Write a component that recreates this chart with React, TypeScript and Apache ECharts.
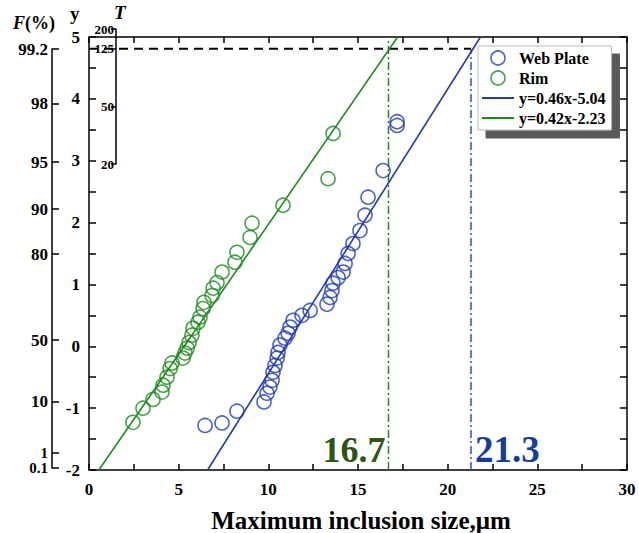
import React, { useEffect, useRef } from "react";
import * as echarts from "echarts";

// ---- data ----
const webPlate: [number, number][] = [
  [6.47, -1.28], [7.42, -1.24], [8.25, -1.05], [9.76, -0.9], [9.93, -0.76], [10.09, -0.66],
  [10.21, -0.55], [10.26, -0.42], [10.37, -0.31], [10.49, -0.19], [10.54, -0.1], [10.65, 0.02],
  [10.93, 0.13], [11.1, 0.21], [11.21, 0.31], [11.38, 0.42], [11.88, 0.5], [12.33, 0.58],
  [13.27, 0.68], [13.44, 0.79], [13.55, 0.9], [13.61, 1.02], [13.89, 1.11], [14.17, 1.2],
  [14.28, 1.34], [14.45, 1.5], [14.72, 1.66], [15.11, 1.87], [15.39, 2.12], [15.56, 2.41],
  [16.4, 2.84], [17.18, 3.57], [17.18, 3.63],
];
const rim: [number, number][] = [
  [2.45, -1.23], [3.01, -1.0], [3.57, -0.86], [4.07, -0.74], [4.13, -0.63], [4.35, -0.5],
  [4.52, -0.36], [4.63, -0.27], [5.24, -0.19], [5.35, -0.11], [5.47, -0.03], [5.58, 0.06],
  [5.74, 0.18], [5.8, 0.29], [6.08, 0.39], [6.19, 0.47], [6.36, 0.61], [6.41, 0.71],
  [6.86, 0.82], [6.92, 0.94], [7.14, 1.03], [7.42, 1.2], [8.14, 1.36], [8.25, 1.52],
  [8.98, 1.76], [9.09, 1.99], [10.82, 2.28], [13.33, 2.71], [13.61, 3.44],
];
const blueFit: [number, number][] = [[6.61, -2], [21.83, 5]];
const greenFit: [number, number][] = [[0.55, -2], [17.21, 5]];
const blueFitName = "y=0.46x-5.04";
const greenFitName = "y=0.42x-2.23";

const yLevel = 4.81; // 99.2 %
const greenCrit = 16.7;
const blueCrit = 21.3;
const critLabelY = -1.67;

// Probability (F %) axis: labels and their reduced-variate positions
const fLabels = ["99.2", "98", "95", "90", "80", "50", "10", "1", "0.1"];
const fValues = [4.81, 3.93, 2.98, 2.22, 1.49, 0.1, -0.9, -1.73, -1.97];
// Return-period (T) axis
const tLabels = ["200", "125", "50", "20"];
const tValues = [5.12, 4.81, 3.88, 2.96];

const xTitle = "Maximum inclusion size,μm";

const BLUE = "#1f3bb8";
const GREEN = "#1e8a1e";
const FONT = "'Liberation Serif', 'DejaVu Serif', serif";

export default function App() {
  const ref = useRef<HTMLDivElement>(null);
  useEffect(() => {
    if (!ref.current) return;
    const chart = echarts.init(ref.current, undefined, { renderer: "svg" });
    const lbl = { fontFamily: FONT, fontWeight: "bold" as const, color: "#000" };
    const axisLineStyle = { onZero: false, lineStyle: { color: "#000", width: 1.5 } };
    const tickStyle = { color: "#000", width: 1.5 };
    const pick = (vals: number[], labs: string[]) => (v: number) => {
      let best = 0;
      for (let i = 0; i < vals.length; i++) if (Math.abs(vals[i] - v) < Math.abs(vals[best] - v)) best = i;
      return labs[best];
    };
    const fMin = fValues[fValues.length - 1];
    const fMax = fValues[0];
    const fMain = fValues.slice(0, fValues.length - 2);
    const fLow = fValues.slice(fValues.length - 2);
    const pickF = pick(fValues, fLabels);
    const xCommon = {
      type: "value", min: 0, max: 30, interval: 5,
      axisLine: axisLineStyle,
      axisTick: { inside: true, length: 6, lineStyle: tickStyle },
      minorTick: { show: true, splitNumber: 2, length: 6, lineStyle: tickStyle },
      splitLine: { show: false }, minorSplitLine: { show: false },
    };
    const yCommon = {
      type: "value", min: -2, max: 5, interval: 1,
      axisLine: axisLineStyle,
      axisTick: { inside: true, length: 7, lineStyle: tickStyle },
      minorTick: { show: true, splitNumber: 2, length: 7, lineStyle: tickStyle },
      splitLine: { show: false }, minorSplitLine: { show: false },
    };
    chart.setOption({
      animation: false,
      backgroundColor: "#fff",
      grid: [
        { left: 89, right: 12, top: 37, bottom: 63 },
        { left: 52, width: 1, top: 49, bottom: 65 },
        { left: 116, width: 1, top: 29, height: 135 },
      ],
      xAxis: [
        {
          ...xCommon, gridIndex: 0, position: "bottom",
          axisLabel: { ...lbl, fontSize: 17, margin: 11, hideOverlap: false, showMinLabel: true, showMaxLabel: true },
        },
        { ...xCommon, gridIndex: 0, position: "top", axisLabel: { show: false } },
        { gridIndex: 1, type: "value", show: false, min: 0, max: 1 },
        { gridIndex: 2, type: "value", show: false, min: 0, max: 1 },
      ],
      yAxis: [
        { ...yCommon, gridIndex: 0, axisLabel: { ...lbl, fontSize: 17, margin: 9 } },
        { ...yCommon, gridIndex: 0, position: "right", axisLabel: { show: false } },
        {
          gridIndex: 1, type: "value", min: fMin, max: fMax, position: "left", offset: 0,
          axisLine: { show: true, ...axisLineStyle },
          axisTick: { show: true, inside: true, length: 7, customValues: fMain, lineStyle: tickStyle },
          axisLabel: {
            ...lbl, fontSize: 17, margin: 4, customValues: fMain, formatter: pickF,
            showMinLabel: true, showMaxLabel: true, hideOverlap: false,
          },
          splitLine: { show: false },
        },
        {
          gridIndex: 1, type: "value", min: fMin, max: fMax, position: "left", offset: 0,
          axisLine: { show: false, onZero: false },
          axisTick: { show: true, inside: true, length: 7, customValues: fLow, lineStyle: tickStyle },
          axisLabel: {
            ...lbl, fontSize: 15, lineHeight: 13, margin: 4, customValues: fLow, formatter: pickF,
            showMinLabel: true, showMaxLabel: true, hideOverlap: false,
          },
          splitLine: { show: false },
        },
        {
          gridIndex: 2, type: "value", min: tValues[tValues.length - 1], max: tValues[0],
          axisLine: { show: true, ...axisLineStyle },
          axisTick: { show: true, inside: false, length: 5, customValues: tValues, lineStyle: tickStyle },
          axisLabel: {
            ...lbl, fontSize: 13, margin: 2, customValues: tValues, formatter: pick(tValues, tLabels),
            showMinLabel: true, showMaxLabel: true, hideOverlap: false,
          },
          splitLine: { show: false },
        },
      ],
      legend: {
        orient: "vertical", left: 478, top: 46,
        backgroundColor: "#fff", borderColor: "#bbb", borderWidth: 1,
        shadowColor: "#5a5a5a", shadowOffsetX: 8, shadowOffsetY: 8, shadowBlur: 0,
        padding: [4, 6, 4, 4], itemGap: 4, itemWidth: 32, itemHeight: 14,
        textStyle: { ...lbl, fontSize: 16 },
        data: [
          { name: "Web Plate", icon: "circle", itemStyle: { color: "transparent", borderColor: BLUE, borderWidth: 1.6 } },
          { name: "Rim", icon: "circle", itemStyle: { color: "transparent", borderColor: GREEN, borderWidth: 1.6 } },
          { name: blueFitName, icon: "path://M0,0H32V2H0Z", itemStyle: { color: BLUE, borderWidth: 0 } },
          { name: greenFitName, icon: "path://M0,0H32V2H0Z", itemStyle: { color: GREEN, borderWidth: 0 } },
        ],
      },
      series: [
        {
          name: blueFitName, type: "line", data: blueFit, symbol: "none", xAxisIndex: 0, yAxisIndex: 0,
          lineStyle: { color: BLUE, width: 1.6 }, itemStyle: { color: BLUE }, z: 3,
        },
        {
          name: greenFitName, type: "line", data: greenFit, symbol: "none", xAxisIndex: 0, yAxisIndex: 0,
          lineStyle: { color: GREEN, width: 1.6 }, itemStyle: { color: GREEN }, z: 3,
        },
        {
          name: "Web Plate", type: "scatter", data: webPlate, symbol: "circle", symbolSize: 14,
          itemStyle: { color: "transparent", borderColor: BLUE, borderWidth: 1.6 }, z: 4,
        },
        {
          name: "Rim", type: "scatter", data: rim, symbol: "circle", symbolSize: 14,
          itemStyle: { color: "transparent", borderColor: GREEN, borderWidth: 1.6 }, z: 4,
        },
        {
          name: "level", type: "line", symbol: "none", data: [[0, yLevel], [blueCrit, yLevel]],
          lineStyle: { color: "#000", width: 1.8, type: [9, 6] }, z: 2,
        },
        {
          name: "greenCrit", type: "line", symbol: "none", data: [[greenCrit, -2], [greenCrit, 5]],
          lineStyle: { color: "#2e7d1e", width: 1.5, type: [8, 3, 2, 3] }, z: 2,
        },
        {
          name: "blueCrit", type: "line", symbol: "none", data: [[blueCrit, -2], [blueCrit, yLevel]],
          lineStyle: { color: "#2a50c8", width: 1.5, type: [8, 3, 2, 3] }, z: 2,
        },
      ],
      graphic: [
        {
          id: "fTitle", type: "text", left: 13, top: 14,
          style: {
            text: "{i|F}(%)", fontFamily: FONT, fontWeight: "bold", fontSize: 18, fill: "#000",
            rich: { i: { fontFamily: FONT, fontWeight: "bold", fontStyle: "italic", fontSize: 18 } },
          },
        },
        { id: "yTitle", type: "text", left: 70, top: 4, style: { text: "y", fontFamily: FONT, fontWeight: "bold", fontSize: 19, fill: "#000" } },
        { id: "tTitle", type: "text", left: 114, top: 3, style: { text: "T", fontFamily: FONT, fontWeight: "bold", fontStyle: "italic", fontSize: 19, fill: "#000" } },
        {
          id: "xTitle", type: "text", x: 361, y: 520,
          style: { text: xTitle, fontFamily: FONT, fontWeight: "bold", fontSize: 25, fill: "#000", align: "center", verticalAlign: "middle" },
        },
      ],
    });
    // critical-size annotations placed through the chart's own scales
    const pg = chart.convertToPixel({ xAxisIndex: 0, yAxisIndex: 0 }, [greenCrit, critLabelY]) as number[];
    const pb = chart.convertToPixel({ xAxisIndex: 0, yAxisIndex: 0 }, [blueCrit, critLabelY]) as number[];
    chart.setOption({
      graphic: [
        {
          id: "greenCritLabel", type: "text", x: pg[0] - 3, y: pg[1], z: 10,
          style: { text: String(greenCrit), fontFamily: FONT, fontWeight: "bold", fontSize: 36, fill: "#2a5712", align: "right", verticalAlign: "middle" },
        },
        {
          id: "blueCritLabel", type: "text", x: pb[0] + 4, y: pb[1], z: 10,
          style: { text: String(blueCrit), fontFamily: FONT, fontWeight: "bold", fontSize: 37, fill: "#163d9c", align: "left", verticalAlign: "middle" },
        },
      ],
    });
    return () => chart.dispose();
  }, []);
  return <div ref={ref} style={{ position: "fixed", left: 0, top: 0, width: 639, height: 533 }} />;
}
